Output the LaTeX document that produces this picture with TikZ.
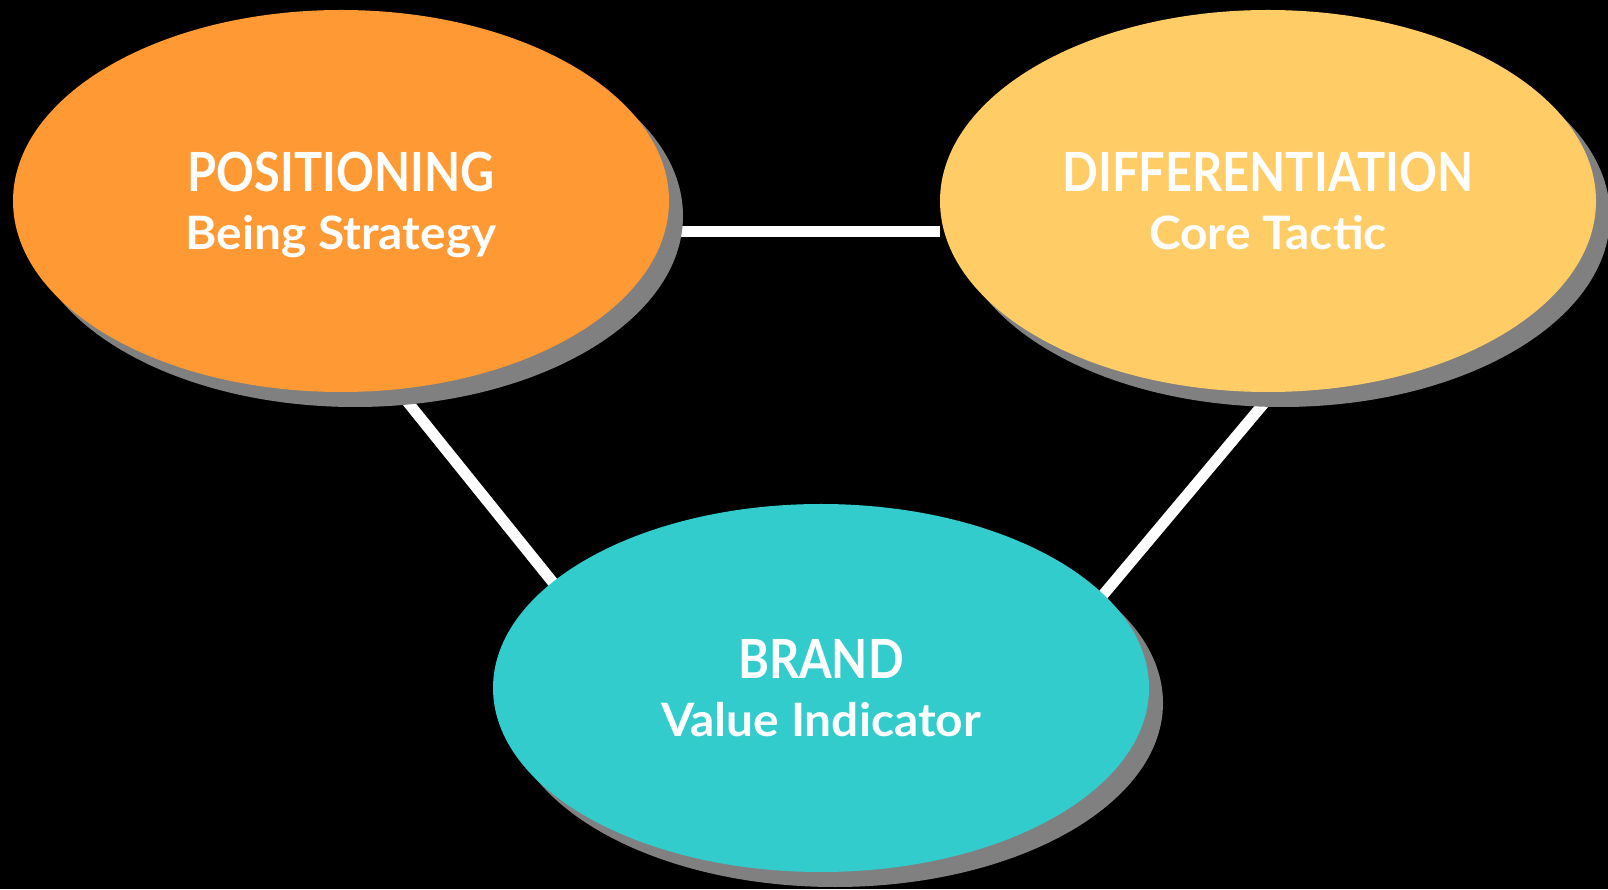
\documentclass[tikz,border=0pt]{standalone}
\usepackage{fontspec}
\setmainfont{Lato}
\usepackage{tikz}
\usetikzlibrary{shapes.geometric,shadows,backgrounds}

\definecolor{posorange}{HTML}{FF9933}
\definecolor{diffyellow}{HTML}{FFCC66}
\definecolor{brandteal}{HTML}{33CCCC}
\definecolor{shadowgray}{HTML}{808080}

\newcommand{\bigline}[1]{\scalebox{0.87}[1]{#1}}
\newcommand{\smallline}[1]{\fontsize{46}{58}\selectfont\scalebox{1.04}[1]{#1}}

\begin{document}
\begin{tikzpicture}[x=1pt,y=1pt]

        \useasboundingbox (0,0) rectangle (1608,889);

        \begin{scope}[every node/.style={ellipse, inner sep=0pt, text=white,
            align=center, minimum width=656pt,
            font=\bfseries\fontsize{54}{58}\selectfont,
            drop shadow={shadow xshift=14pt, shadow yshift=-15pt,
              fill=shadowgray, opacity=1}}]
          \node[fill=posorange, minimum height=382pt]  (pos)   at (341,688)
            {\bigline{POSITIONING}\\\smallline{\smash{Being Strategy}}};
          \node[fill=diffyellow, minimum height=382pt] (diff)  at (1268,688)
            {\bigline{DIFFERENTIATION}\\\smallline{Core Tactic}};
          \node[fill=brandteal, minimum height=368pt]  (brand) at (821,201)
            {\bigline{BRAND}\\\smallline{Value Indicator}};
        \end{scope}

        \begin{scope}[on background layer]
          \fill[black] (0,0) rectangle (1608,889);

          % the links start behind the ellipses
          \begin{scope}[every edge/.style={draw=white, line width=11pt}]
            \path ([yshift=-31pt]pos.east) edge ([yshift=-31pt]diff.west);
            \path ([shift={(32.75,-159)}]pos.center)
              edge ([shift={(-229.75,58)}]brand.center);
            \path ([shift={(31.25,-160.25)}]diff.center)
              edge ([shift={(242.75,46.25)}]brand.center);
          \end{scope}
        \end{scope}

      \end{tikzpicture}
\end{document}
